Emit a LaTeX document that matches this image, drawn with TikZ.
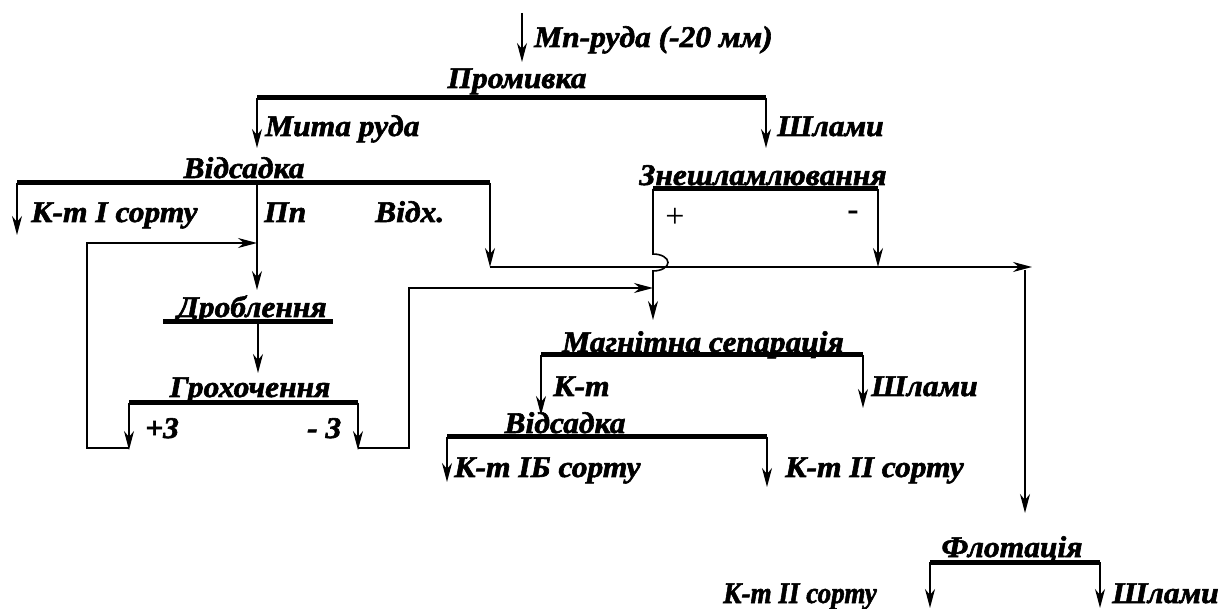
\documentclass[tikz,border=0pt]{standalone}
\usepackage{fontspec}
\usepackage{graphicx}
\setmainfont{Liberation Serif}
\newfontfamily\labfont{Liberation Serif}[FakeStretch=1.05,FakeBold=2]
\usetikzlibrary{arrows.meta}

\begin{document}
\begin{tikzpicture}[x=1pt,y=-1pt]
\tikzset{
  lbl/.style={font={\labfont\fontsize{30}{32}\selectfont\bfseries\itshape},inner sep=0pt},
  sign/.style={font={\fontsize{34}{36}\selectfont},inner sep=0pt},
  bar/.style={line width=5pt},
  flow/.style={line width=1.6pt},
  arr/.style={flow,-{Stealth[length=19pt,width=10pt,inset=6pt]}}
}
\useasboundingbox (0,0) rectangle (1224,609);

% feed and washing
\coordinate (feed-s) at (522,13);
\coordinate (feed-e) at (522,62);
\draw[arr] (feed-s) -- (feed-e);
\node[lbl,anchor=base west] (feed) at (534,47) {Mn-руда (-20 мм)};
\node[lbl,anchor=base] (prom) at (517,88) {Промивка};
\coordinate (prom-l) at (257,98);
\coordinate (prom-r) at (766,98);
\draw[bar] (prom-l) -- (prom-r);
\coordinate (mita-e) at (257,148);
\coordinate (shl1-e) at (766,148);
\draw[arr] (prom-l) -- (mita-e);
\draw[arr] (prom-r) -- (shl1-e);
\node[lbl,anchor=base west] (mita) at (265,136) {Мита руда};
\node[lbl,anchor=base west] (shl1) at (777,136) {Шлами};

% jigging
\node[lbl,anchor=base] (vid1) at (244,178) {Відсадка};
\coordinate (vid1-l) at (17,183);
\coordinate (vid1-m) at (257,183);
\coordinate (vid1-r) at (490,183);
\draw[bar] (vid1-l) -- (vid1-r);
\coordinate (kt1-e) at (17,235);
\coordinate (pp-e) at (257,290);
\coordinate (vidh-e) at (490,267);
\draw[arr] (vid1-l) -- (kt1-e);
\draw[arr] (vid1-m) -- (pp-e);
\draw[arr] (vid1-r) -- (vidh-e);
\node[lbl,anchor=base west] (kt1) at (31,222) {К-т І сорту};
\node[lbl,anchor=base west] (pp) at (264,222) {Пп};
\node[lbl,anchor=base west] (vidh) at (375,222) {Відх.};

% tailings line
\coordinate (main-e) at (1032,267);
\coordinate (main-t) at (1025,270);
\coordinate (flot-in) at (1025,513);
\draw[arr] (vidh-e) -- (main-e);
\draw[arr] (main-t) -- (flot-in);

% desliming
\node[lbl,anchor=base] (znes) at (763,185) {Знешламлювання};
\coordinate (zn-l) at (653,189);
\coordinate (zn-r) at (878,189);
\draw[bar] (zn-l) -- (zn-r);
\node[sign] (plus) at (675,218) {+};
\node[sign,font={\fontsize{34}{36}\selectfont\bfseries}] (minus) at (853,216) {-};
\coordinate (minus-e) at (878,267);
\draw[arr] (zn-r) -- (minus-e);
\coordinate (jump-t) at (653,254);
\coordinate (mag-in) at (653,320);
\draw[arr] (zn-l) -- (jump-t)
  arc[start angle=-90,end angle=90,x radius=15,y radius=8.5] -- (mag-in);

% crushing and screening
\node[lbl,anchor=base] (drob) at (252,317) {Дроблення};
\coordinate (drob-l) at (163,322);
\coordinate (drob-m) at (258,322);
\coordinate (drob-r) at (333,322);
\draw[bar] (drob-l) -- (drob-r);
\coordinate (groh-in) at (258,373);
\draw[arr] (drob-m) -- (groh-in);
\node[lbl,anchor=base] (groh) at (250,397) {Грохочення};
\coordinate (groh-l) at (129,403);
\coordinate (groh-r) at (358,403);
\draw[bar] (groh-l) -- (groh-r);
\coordinate (p3-e) at (129,450);
\coordinate (m3-e) at (358,450);
\draw[arr] (groh-l) -- (p3-e);
\draw[arr] (groh-r) -- (m3-e);
\node[lbl,anchor=base west] (p3) at (145,438) {+3};
\node[lbl,anchor=base west] (m3) at (307,438) {- 3};

% recycles
\coordinate (rc1-s) at (129,448);
\coordinate (rc1-a) at (87,448);
\coordinate (rc1-b) at (87,243);
\coordinate (rc1-e) at (257,243);
\draw[arr] (rc1-s) -- (rc1-a) -- (rc1-b) -- (rc1-e);
\coordinate (rc2-s) at (358,448);
\coordinate (rc2-a) at (409,448);
\coordinate (rc2-b) at (409,288);
\coordinate (rc2-e) at (653,288);
\draw[arr] (rc2-s) -- (rc2-a) -- (rc2-b) -- (rc2-e);

% magnetic separation
\node[lbl,anchor=base] (magn) at (703,352) {Магнітна сепарація};
\coordinate (mag-l) at (541,355);
\coordinate (mag-r) at (863,355);
\draw[bar] (mag-l) -- (mag-r);
\coordinate (ktm-e) at (541,415);
\coordinate (shl2-e) at (863,408);
\draw[arr] (mag-l) -- (ktm-e);
\draw[arr] (mag-r) -- (shl2-e);
\node[lbl,anchor=base west] (ktm) at (553,396) {К-т};
\node[lbl,anchor=base west] (shl2) at (871,396) {Шлами};

% second jigging
\node[lbl,anchor=base] (vid2) at (565,433) {Відсадка};
\coordinate (vid2-l) at (447,437);
\coordinate (vid2-r) at (767,437);
\draw[bar] (vid2-l) -- (vid2-r);
\coordinate (kt1b-e) at (447,482);
\coordinate (kt2-e) at (767,487);
\draw[arr] (vid2-l) -- (kt1b-e);
\draw[arr] (vid2-r) -- (kt2-e);
\node[lbl,anchor=base west] (kt1b) at (454,477) {К-т ІБ сорту};
\node[lbl,anchor=base west] (kt2) at (785,477) {К-т ІІ сорту};

% flotation
\node[lbl,anchor=base] (flot) at (1012,557) {Флотація};
\coordinate (flot-l) at (930,562);
\coordinate (flot-r) at (1100,562);
\draw[bar] (flot-l) -- (flot-r);
\coordinate (fk-e) at (930,608);
\coordinate (fs-e) at (1100,608);
\draw[arr] (flot-l) -- (fk-e);
\draw[arr] (flot-r) -- (fs-e);
\node[lbl,anchor=base east] (fk) at (877,603) {\scalebox{0.86}[1]{К-т ІІ сорту}};
\node[lbl,anchor=base west] (fs) at (1112,603) {Шлами};
\end{tikzpicture}
\end{document}
